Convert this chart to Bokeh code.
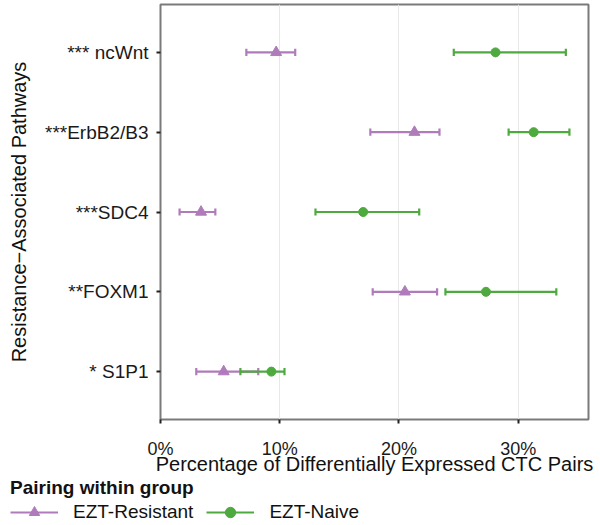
from bokeh.plotting import figure
from bokeh.layouts import column
from bokeh.models import (ColumnDataSource, Range1d, FixedTicker, PrintfTickFormatter,
                          Legend, LegendItem)
from bokeh.embed import file_html
from bokeh.resources import INLINE

# ---- data ----
pathways = ["ncWnt", "ErbB2/B3", "SDC4", "FOXM1", "S1P1"]
tick_labels = ["*** ncWnt", "***ErbB2/B3", "***SDC4", "**FOXM1", "* S1P1"]

res_mid = [9.7, 21.3, 3.4, 20.5, 5.3]
res_lo = [7.2, 17.6, 1.6, 17.8, 3.0]
res_hi = [11.3, 23.4, 4.6, 23.2, 8.2]

nai_mid = [28.1, 31.3, 17.0, 27.3, 9.3]
nai_lo = [24.6, 29.2, 13.0, 23.9, 6.7]
nai_hi = [34.0, 34.3, 21.7, 33.2, 10.4]

x_ticks = [0, 10, 20, 30]
series_names = ["EZT-Resistant", "EZT-Naive"]

PURPLE = "#b07bbb"
GREEN = "#4eaa3f"
FONT = "Liberation Sans"

n = len(pathways)
ypos = [n - i for i in range(n)]
cap = 0.045

MAIN_H = 477
LEG_H = 48

p = figure(width=600, height=MAIN_H, output_backend="svg", toolbar_location=None,
           x_range=Range1d(0, 35.9), y_range=Range1d(0.4, n + 0.6),
           min_border_left=160, min_border_right=12, min_border_top=4,
           min_border_bottom=MAIN_H - 421)

p.background_fill_color = "white"
p.border_fill_color = "white"
p.outline_line_color = "#7a7a7a"
p.outline_line_width = 2

p.xgrid.grid_line_color = "#e8e8e8"
p.xgrid.grid_line_width = 1
p.ygrid.grid_line_color = None

# legend-only figure below the main one
lf = figure(width=600, height=LEG_H, output_backend="svg", toolbar_location=None,
            x_range=Range1d(0, 1), y_range=Range1d(0, 1),
            x_axis_type=None, y_axis_type=None,
            min_border_left=10, min_border_right=0, min_border_top=0,
            min_border_bottom=0, align="start")
lf.outline_line_color = None
lf.background_fill_color = "white"
lf.border_fill_color = "white"
lf.xgrid.grid_line_color = None
lf.ygrid.grid_line_color = None


def make_source(mid, lo, hi):
    return ColumnDataSource(dict(y=ypos, mid=mid, lo=lo, hi=hi,
                                 ylo=[v - cap for v in ypos],
                                 yhi=[v + cap for v in ypos]))


def draw_series(src, color, marker, size):
    p.segment(x0="lo", y0="y", x1="hi", y1="y", source=src,
              line_color=color, line_width=2.2)
    p.segment(x0="lo", y0="ylo", x1="lo", y1="yhi", source=src,
              line_color=color, line_width=2.2)
    p.segment(x0="hi", y0="ylo", x1="hi", y1="yhi", source=src,
              line_color=color, line_width=2.2)
    p.scatter(x="mid", y="y", source=src, marker=marker, size=size,
              fill_color=color, line_color=color)
    # legend proxies (hidden renderers in the legend figure)
    lline = lf.segment(x0="lo", y0="y", x1="hi", y1="y", source=src,
                       line_color=color, line_width=2.2, visible=False)
    lpts = lf.scatter(x="mid", y="y", source=src, marker=marker, size=size,
                      fill_color=color, line_color=color, visible=False)
    return [lline, lpts]


res_src = make_source(res_mid, res_lo, res_hi)
nai_src = make_source(nai_mid, nai_lo, nai_hi)
r_items = draw_series(res_src, PURPLE, "triangle", 11)
n_items = draw_series(nai_src, GREEN, "circle", 9)

# ---- axes ----
xa = p.xaxis[0]
xa.ticker = FixedTicker(ticks=x_ticks)
xa.formatter = PrintfTickFormatter(format="%d%%")
xa.axis_label = "Percentage of Differentially Expressed CTC Pairs"
ya = p.yaxis[0]
ya.ticker = FixedTicker(ticks=ypos)
ya.major_label_overrides = {y: lab for y, lab in zip(ypos, tick_labels)}
ya.axis_label = "Resistance\u2212Associated Pathways"

for ax in (xa, ya):
    ax.axis_line_color = None
    ax.major_tick_in = 0
    ax.major_tick_out = 4
    ax.major_tick_line_color = "#222222"
    ax.major_tick_line_width = 2
    ax.minor_tick_line_color = None
    ax.major_label_text_font = FONT
    ax.major_label_text_color = "#1a1a1a"
    ax.axis_label_text_font = FONT
    ax.axis_label_text_font_size = "20px"
    ax.axis_label_text_font_style = "normal"
    ax.axis_label_text_color = "#111111"

xa.major_label_text_font_size = "18px"
ya.major_label_text_font_size = "19px"
xa.major_label_standoff = 15
xa.axis_label_standoff = -9
ya.major_label_standoff = 8
ya.axis_label_standoff = 12

# ---- legend ----
legend = Legend(items=[LegendItem(label=series_names[0], renderers=r_items),
                       LegendItem(label=series_names[1], renderers=n_items)],
                location="top_left", orientation="horizontal",
                title="Pairing within group")
legend.title_text_font = FONT
legend.title_text_font_style = "bold"
legend.title_text_font_size = "19px"
legend.title_text_color = "#111111"
legend.title_standoff = 0
legend.label_text_font = FONT
legend.label_text_font_size = "19px"
legend.label_text_color = "#111111"
legend.glyph_width = 48
legend.glyph_height = 26
legend.label_height = 22
legend.label_standoff = 15
legend.spacing = 13
legend.padding = 0
legend.margin = 0
legend.border_line_color = None
legend.background_fill_alpha = 0
legend.inactive_fill_alpha = 0
lf.add_layout(legend)

layout = column(p, column(lf), spacing=0)
open("out.html", "w").write(file_html(layout, INLINE))
